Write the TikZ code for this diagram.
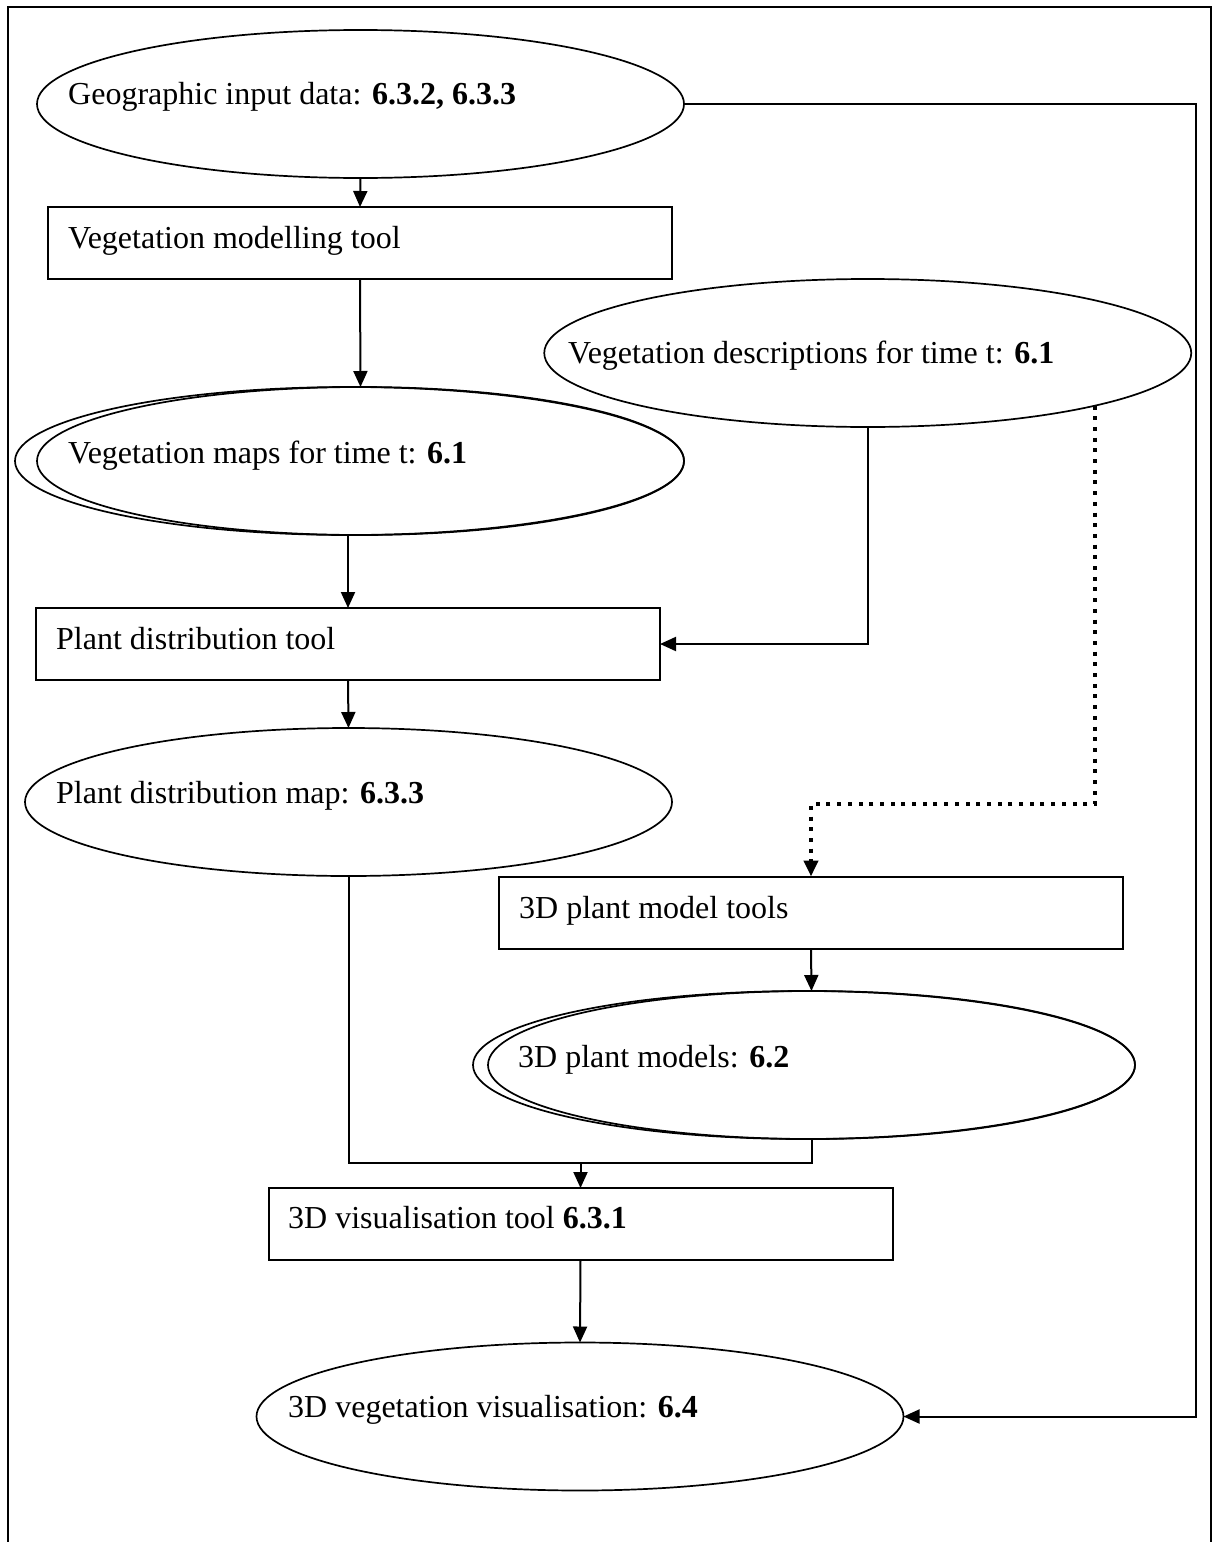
\documentclass[tikz,border=0pt]{standalone}
\usepackage{fontspec}
\setmainfont{Liberation Serif}
\usetikzlibrary{arrows.meta,shapes.geometric,calc}

\begin{document}
\begin{tikzpicture}[x=1pt,y=-1pt,
  conn/.style={line width=2pt},
  arr/.style={line width=2pt,-{Triangle[length=16pt 0 0,width=14pt 0 0]}},
  dotarr/.style={line width=4pt,dash pattern=on 4pt off 6.7pt,-{Triangle[length=16pt 0 0,width=14pt 0 0]}},
  oval/.style={draw,line width=1.7pt,ellipse,minimum width=647pt,minimum height=148pt,inner sep=0pt,outer sep=0pt},
  toolbox/.style={draw,line width=2pt,rectangle,minimum width=624pt,minimum height=72pt,inner sep=0pt,outer sep=0pt},
  lbl/.style={anchor=base west,inner sep=0pt,font=\fontsize{32}{38}\selectfont},
]
\useasboundingbox (0,0) rectangle (1214,1542);

% page frame, open at the bottom
\draw[line width=1.8pt] (8,1542) -- (8,7) -- (1211,7) -- (1211,1542);

% data and tool shapes
\node[oval] (geo) at (360.5,104) {};
\node[lbl] (geoT) at (68,104) {Geographic input data: \textbf{6.3.2, 6.3.3}};

\node[toolbox] (vmt) at (360,243) {};
\node[lbl] (vmtT) at (68,248) {Vegetation modelling tool};

\node[oval,minimum width=669pt] (mapsback) at (349.5,461) {};
\node[oval] (maps) at (360.5,461) {};
\node[lbl] (mapsT) at (68,463) {Vegetation maps for time t: \textbf{6.1}};

\node[oval] (desc) at (867.75,353) {};
\node[lbl] (descT) at (568,363) {Vegetation descriptions for time t: \textbf{6.1}};

\node[toolbox] (pdt) at (348,644) {};
\node[lbl] (pdtT) at (56,649) {Plant distribution tool};

\node[oval] (pdm) at (348.5,802) {};
\node[lbl] (pdmT) at (56,803) {Plant distribution map: \textbf{6.3.3}};

\node[toolbox] (pmt) at (811,912.5) {};
\node[lbl] (pmtT) at (519,918) {3D plant model tools};

\node[oval,minimum width=662pt] (modelsback) at (804,1065) {};
\node[oval] (models) at (811.5,1065) {};
\node[lbl] (modelsT) at (518,1067) {3D plant models: \textbf{6.2}};

\node[toolbox] (vis) at (580.5,1224) {};
\node[lbl] (visT) at (288,1228) {3D visualisation tool \textbf{6.3.1}};

\node[oval] (vviz) at (580,1416.5) {};
\node[lbl] (vvizT) at (288,1417) {3D vegetation visualisation: \textbf{6.4}};

% routing points
\coordinate (rail) at (1196,0);
\coordinate (dotturn) at (0,804);
\coordinate (merge) at (0,1163);

% connectors
\draw[arr] (geo.south) -- (vmt.north);
\draw[arr] (vmt.south) -- (maps.north);
\draw[arr] (pdt.north |- maps.south) -- (pdt.north);
\draw[arr] (desc.south) |- (pdt.east);
\draw[arr] (pdt.south) -- (pdm.north);
\draw[dotarr] (desc.-13.2) -- (desc.-13.2 |- dotturn) -| (pmt.north);
\draw[arr] (pmt.south) -- (models.north);
\draw[conn] (pdm.south) |- (models.south |- merge) -- (models.south);
\draw[arr] (vis.north |- merge) -- (vis.north);
\draw[arr] (vis.south) -- (vviz.north);
\draw[arr] (geo.east) -- (geo.east -| rail) -- (rail |- vviz.east) -- (vviz.east);
\end{tikzpicture}
\end{document}
